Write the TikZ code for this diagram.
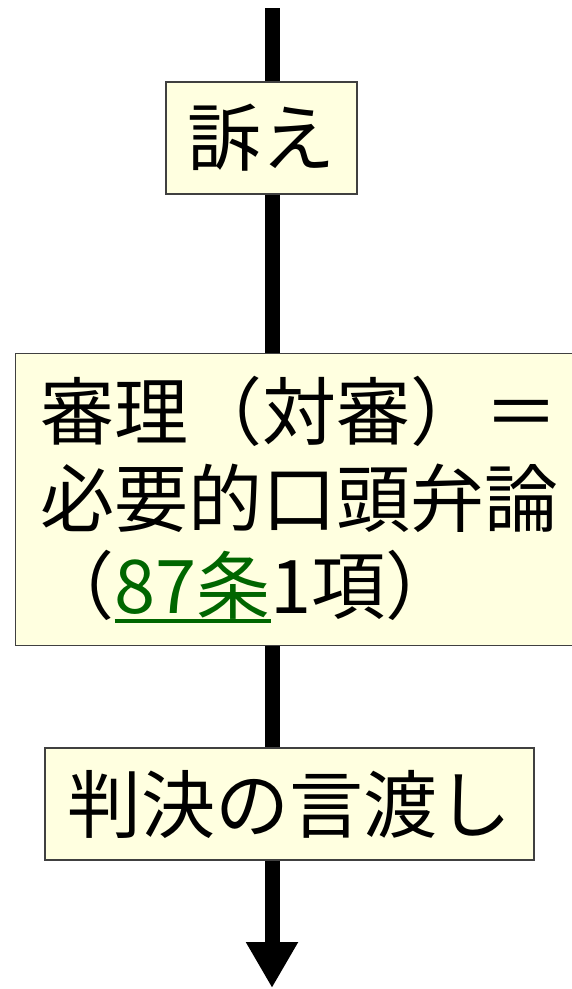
\documentclass[tikz,border=0pt]{standalone}
\usepackage{fontspec}
\setmainfont{Noto Sans CJK JP}
\usetikzlibrary{arrows.meta}
\definecolor{boxfill}{RGB}{255,255,224}
\definecolor{linkgreen}{RGB}{0,102,0}
\newcommand\linkref[1]{\textcolor{linkgreen}{\setbox0\hbox{#1}\rlap{\rule[-9pt]{\wd0}{4pt}}\box0}}

\begin{document}
\begin{tikzpicture}[x=1pt,y=-1pt,
    stage/.style={draw=black!75, line width=1.2pt, fill=boxfill, inner sep=0pt,
        font=\fontsize{74}{87}\selectfont},
    flow/.style={line width=15pt}]
    \useasboundingbox (0,0) rectangle (572,989);
    \coordinate (start) at (272,8);
    \coordinate (finish) at (272,988);
    % stages
    \node[stage, minimum width=191pt, minimum height=112pt] (sue) at (261.5,138) {訴え};
    \node[stage, anchor=north west, minimum width=600pt, minimum height=292pt,
        text width=550pt, align=left, inner xsep=25pt] (trial) at (15,353)
        {審理（対審）＝\\必要的口頭弁論\\（\linkref{87条}1項）};
    \node[stage, minimum width=489pt, minimum height=112pt] (verdict) at (289.5,804) {判決の言渡し};
    % flow line
    \draw[flow] (start) -- (start |- sue.north);
    \draw[flow] (sue.south -| start) -- (trial.north -| start);
    \draw[flow] (trial.south -| start) -- (verdict.north -| start);
    \draw[flow, -{Triangle[width=49pt,length=46pt]}] (verdict.south -| start) -- (finish);
\end{tikzpicture}
\end{document}
